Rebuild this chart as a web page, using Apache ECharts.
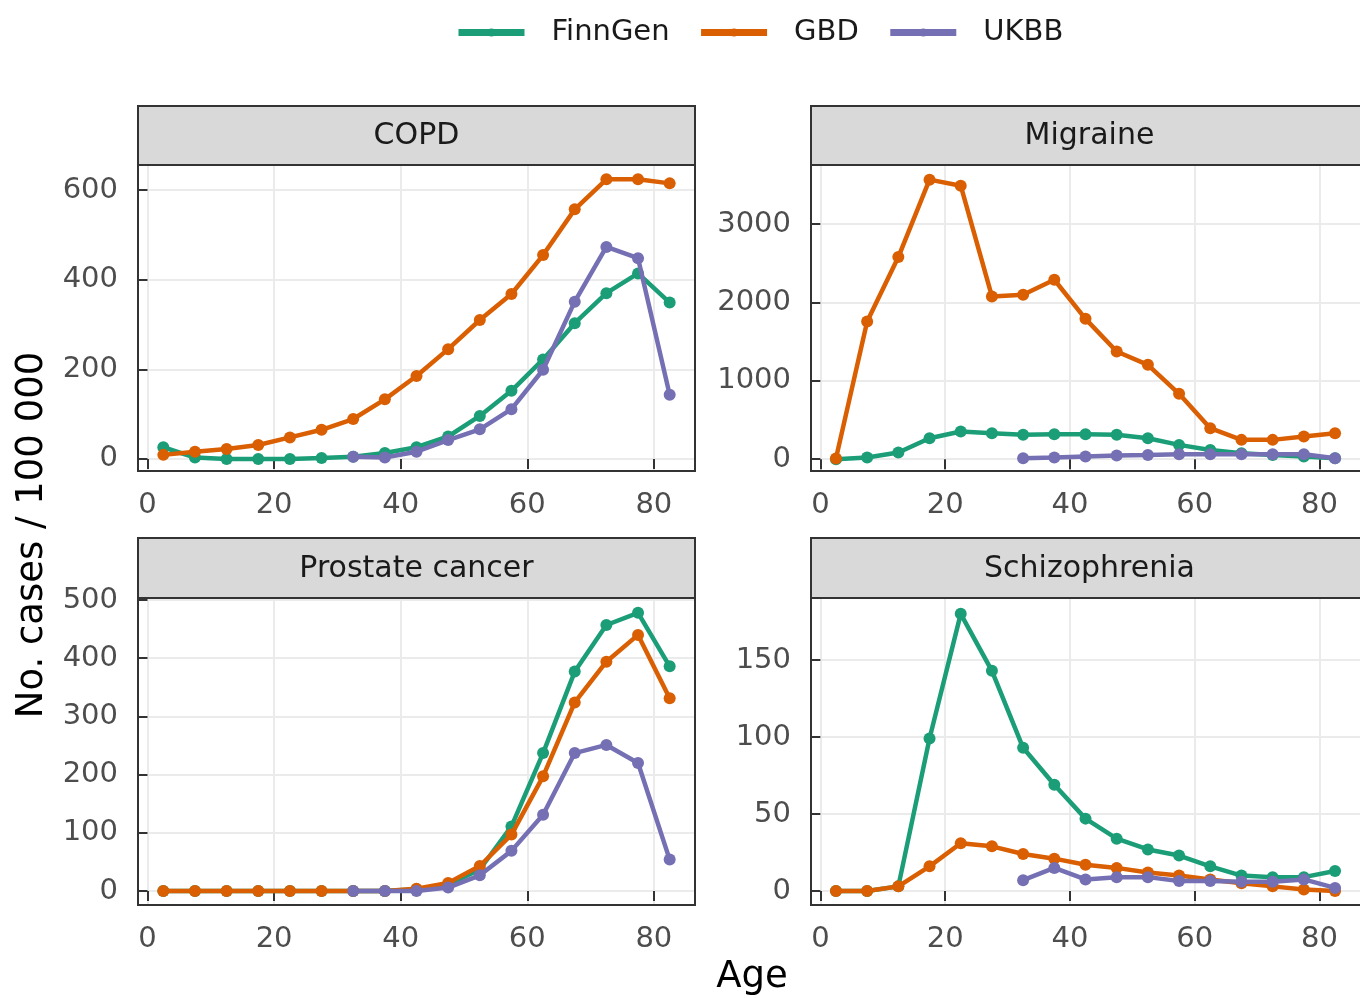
<!DOCTYPE html>
<html><head><meta charset="utf-8">
<script src="https://cdn.jsdelivr.net/npm/echarts@6/dist/echarts.min.js"></script>
<style>html,body{margin:0;padding:0;background:#fff}#c{width:1360px;height:998px}</style>
</head><body><div id="c"></div>
<script>
// ---- data ----
const ages = [2.5, 7.5, 12.5, 17.5, 22.5, 27.5, 32.5, 37.5, 42.5, 47.5, 52.5, 57.5, 62.5, 67.5, 72.5, 77.5, 82.5];
const seriesNames = ['FinnGen', 'GBD', 'UKBB'];
const panelTitles = ['COPD', 'Migraine', 'Prostate cancer', 'Schizophrenia'];
const xTickValues = [0, 20, 40, 60, 80];

const copdFinnGen = [26, 3, 0, 0, 0, 2, 5, 13, 26, 50, 96, 152, 222, 303, 370, 414, 349];
const copdGBD     = [9, 16, 22, 31, 48, 65, 89, 133, 185, 245, 310, 368, 455, 557, 624, 624, 615];
const copdUKBB    = [null, null, null, null, null, null, 5, 3, 16, 42, 66, 111, 199, 351, 473, 448, 143];

const migraineFinnGen = [0, 21, 85, 268, 353, 332, 311, 319, 319, 311, 268, 183, 119, 77, 55, 34, 13];
const migraineGBD     = [10, 1757, 2579, 3566, 3489, 2077, 2098, 2289, 1791, 1374, 1204, 834, 396, 247, 247, 289, 332];
const migraineUKBB    = [null, null, null, null, null, null, 13, 21, 34, 47, 55, 64, 64, 64, 64, 64, 13];

const prostateFinnGen = [0, 0, 0, 0, 0, 0, 0, 0, 3, 11, 37, 111, 237, 377, 457, 478, 386];
const prostateGBD     = [0, 0, 0, 0, 0, 0, 0, 0, 4, 14, 43, 97, 197, 324, 394, 440, 331];
const prostateUKBB    = [null, null, null, null, null, null, 0, 0, 0, 6, 27, 69, 131, 237, 251, 220, 54];

const schizoFinnGen = [0, 0, 3, 99, 180, 143, 93, 69, 47, 34, 27, 23, 16, 10, 9, 9, 13];
const schizoGBD     = [0, 0, 3, 16, 31, 29, 24, 21, 17, 15, 12, 10, 7.5, 5, 3, 1, 0];
const schizoUKBB    = [null, null, null, null, null, null, 7, 15, 7.5, 9, 9, 6.5, 6.5, 6, 6, 7.5, 2];

const copdYTicks = [0, 200, 400, 600];
const migraineYTicks = [0, 1000, 2000, 3000];
const prostateYTicks = [0, 100, 200, 300, 400, 500];
const schizoYTicks = [0, 50, 100, 150];

// ---- layout / style ----
const colors = ['#1b9e77', '#d95f02', '#7570b3'];
const FONT = '"DejaVu Sans", sans-serif';
const W = 557;
const panels = [
  {title: panelTitles[0], left: 138, top: 165, height: 306, stripTop: 106, ymin: -27, ymax: 656, yticks: copdYTicks, data: [copdFinnGen, copdGBD, copdUKBB]},
  {title: panelTitles[1], left: 811, top: 165, height: 306, stripTop: 106, ymin: -150, ymax: 3753, yticks: migraineYTicks, data: [migraineFinnGen, migraineGBD, migraineUKBB]},
  {title: panelTitles[2], left: 138, top: 598, height: 307, stripTop: 538, ymin: -24, ymax: 503.4, yticks: prostateYTicks, data: [prostateFinnGen, prostateGBD, prostateUKBB]},
  {title: panelTitles[3], left: 811, top: 598, height: 307, stripTop: 538, ymin: -9.1, ymax: 190.3, yticks: schizoYTicks, data: [schizoFinnGen, schizoGBD, schizoUKBB]}
];

function pairs(vals) {
  const out = [];
  vals.forEach((v, i) => { if (v !== null) out.push([ages[i], v]); });
  return out;
}

const grids = [], xAxes = [], yAxes = [], series = [], graphics = [];
const tickStyle = {show: true, length: 10, lineStyle: {color: '#333', width: 2}};
const labelStyle = {color: '#4d4d4d', fontSize: 29, fontFamily: FONT, margin: 20, formatter: v => String(v)};
const splitStyle = {show: true, lineStyle: {color: '#ebebeb', width: 2}};

panels.forEach((p, i) => {
  grids.push({left: p.left, top: p.top, width: W, height: p.height, containLabel: false});
  xAxes.push({
    type: 'value', gridIndex: i, min: -1.5, max: 86.5,
    axisLine: {show: false},
    axisTick: Object.assign({customValues: xTickValues}, tickStyle),
    axisLabel: Object.assign({customValues: xTickValues}, labelStyle),
    splitLine: splitStyle
  });
  yAxes.push({
    type: 'value', gridIndex: i, min: p.ymin, max: p.ymax,
    axisLine: {show: false},
    axisTick: Object.assign({customValues: p.yticks}, tickStyle),
    axisLabel: Object.assign({customValues: p.yticks}, labelStyle),
    splitLine: splitStyle
  });
  p.data.forEach((vals, s) => {
    series.push({
      name: seriesNames[s], type: 'line', xAxisIndex: i, yAxisIndex: i,
      data: pairs(vals),
      symbol: 'circle', symbolSize: 12, showSymbol: true,
      lineStyle: {width: 4.5, color: colors[s]},
      itemStyle: {color: colors[s]},
      emphasis: {disabled: true},
      z: 2 + s
    });
  });
  // panel border
  graphics.push({type: 'rect', z: 50, shape: {x: p.left, y: p.top, width: W, height: p.height},
    style: {fill: null, stroke: '#333', lineWidth: 2}});
  // strip
  graphics.push({type: 'rect', z: 50, shape: {x: p.left, y: p.stripTop, width: W, height: p.top - p.stripTop},
    style: {fill: '#d9d9d9', stroke: '#333', lineWidth: 2}});
  graphics.push({type: 'text', z: 51, style: {text: p.title, x: p.left + W / 2, y: (p.stripTop + p.top) / 2 + 1,
    textAlign: 'center', textVerticalAlign: 'middle', font: '30px ' + FONT, fill: '#1a1a1a'}});
});

graphics.push({type: 'text', z: 51, rotation: Math.PI / 2, x: 32, y: 535,
  style: {text: 'No. cases / 100 000', x: 0, y: 0, textAlign: 'center', textVerticalAlign: 'middle', font: '37px ' + FONT, fill: '#000'}});
graphics.push({type: 'text', z: 51, style: {text: 'Age', x: 752, y: 977, textAlign: 'center', textVerticalAlign: 'middle', font: '37px ' + FONT, fill: '#000'}});

const chart = echarts.init(document.getElementById('c'), null, {renderer: 'canvas'});
chart.setOption({
  animation: false,
  backgroundColor: '#fff',
  color: colors,
  legend: {
    data: seriesNames, left: 450, top: 13,
    itemWidth: 66, itemHeight: 10, itemGap: 28,
    lineStyle: {width: 7},
    textStyle: {fontSize: 29, color: '#1a1a1a', fontFamily: FONT, padding: [0, 0, 0, 22]}
  },
  grid: grids, xAxis: xAxes, yAxis: yAxes, series: series, graphic: graphics
});
</script></body></html>
